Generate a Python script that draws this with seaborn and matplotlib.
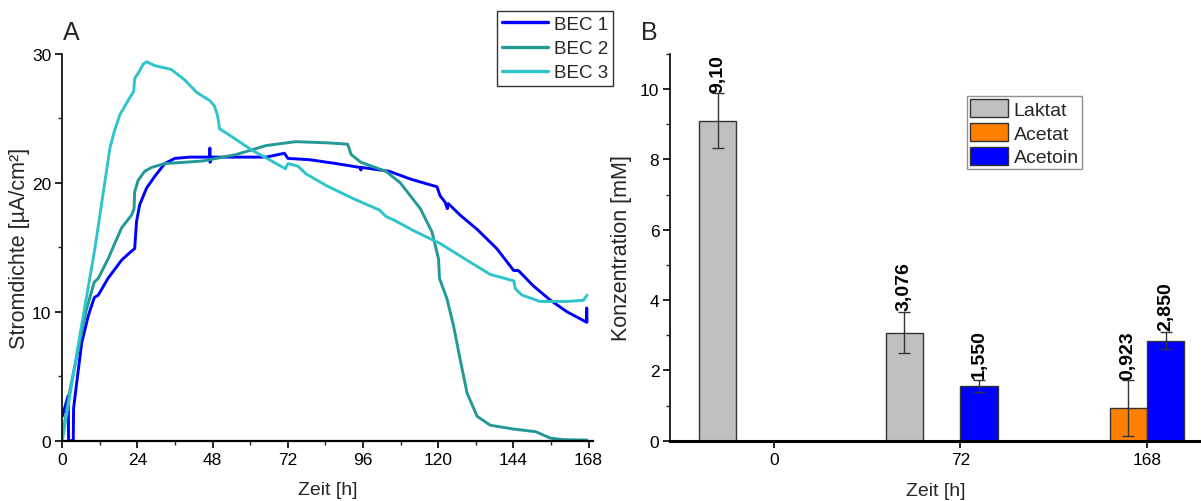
import numpy as np
import pandas as pd
import matplotlib
matplotlib.use("Agg")
import matplotlib.pyplot as plt
import seaborn as sns
from matplotlib.ticker import MultipleLocator
from matplotlib.patches import Patch
from matplotlib.lines import Line2D

# ---------------- data: panel A (current density over time) ----------------
series_names = ["BEC 1", "BEC 2", "BEC 3"]

t_bec1 = [0, 1.9, 2.0, 3.5, 3.6, 4.6, 6.2, 8.3, 10.2, 11.5, 14.6, 18.9, 21.6, 23.1, 23.7, 24.7,
          26.9, 29.5, 32.7, 35.9, 40.7, 47.0, 47.1, 47.2, 47.3, 55.5, 65.1, 70.9, 72.0, 78.9,
          87.4, 95.0, 95.3, 95.6, 104.4, 111.1, 113.9, 119.6, 120.6, 122.2, 122.9, 123.2, 127.0,
          132.4, 138.7, 144.1, 145.6, 150.4, 155.8, 161.1, 167.3, 167.4, 167.5]
j_bec1 = [1.9, 3.5, 0.0, 0.0, 2.5, 4.5, 7.6, 9.7, 11.1, 11.3, 12.6, 14.0, 14.6, 14.9, 17.0, 18.3,
          19.6, 20.5, 21.5, 21.9, 22.0, 22.0, 22.7, 21.6, 22.0, 22.0, 22.0, 22.3, 21.9, 21.8,
          21.5, 21.2, 21.0, 21.2, 20.9, 20.3, 20.1, 19.7, 19.0, 18.5, 18.0, 18.4, 17.5,
          16.4, 14.9, 13.2, 13.2, 12.0, 10.9, 10.0, 9.2, 10.3, 9.2]

t_bec2 = [0, 2.5, 5.1, 7.5, 10.2, 11.5, 14.6, 18.9, 22.1, 22.9, 23.1, 24.2, 26.3, 28.5, 32.7,
          39.0, 44.9, 55.5, 65.1, 74.6, 85.3, 91.1, 92.2, 95.3, 103.3, 107.9, 114.3, 118.0,
          120.1, 120.4, 122.8, 124.9, 127.0, 129.2, 132.4, 136.6, 144.1, 151.1, 155.8, 160.0, 167.5]
j_bec2 = [0.3, 4.0, 7.1, 10.0, 12.3, 12.6, 14.1, 16.5, 17.5, 18.0, 19.3, 20.2, 20.9, 21.2, 21.5,
          21.6, 21.7, 22.2, 22.9, 23.2, 23.1, 23.0, 22.2, 21.6, 20.9, 20.0, 18.0, 16.2,
          14.1, 12.6, 11.0, 8.9, 6.3, 3.7, 1.9, 1.2, 0.9, 0.7, 0.2, 0.08, 0.05]

t_bec3 = [0, 5.0, 10.4, 13.6, 15.2, 16.6, 18.4, 21.5, 22.8, 23.1, 24.2, 25.8, 26.9, 29.5, 34.8,
          39.0, 43.0, 47.0, 48.5, 49.5, 50.2, 53.4, 60.8, 66.1, 71.2, 72.0, 75.2, 77.8, 84.2,
          92.7, 101.2, 103.3, 106.0, 112.1, 120.6, 129.2, 136.6, 144.1, 144.6, 146.7, 152.5,
          161.0, 166.4, 167.5]
j_bec3 = [0.0, 7.3, 14.9, 20.1, 22.7, 24.0, 25.3, 26.6, 27.1, 28.1, 28.5, 29.2, 29.4, 29.1, 28.8,
          28.0, 27.0, 26.4, 26.0, 25.3, 24.2, 23.7, 22.5, 21.8, 21.1, 21.5, 21.3, 20.7, 19.8,
          18.8, 17.9, 17.4, 17.1, 16.3, 15.3, 14.0, 12.9, 12.4, 11.8, 11.3, 10.8,
          10.8, 10.9, 11.3]

xticks_a = [0, 24, 48, 72, 96, 120, 144, 168]
yticks_a = [0, 10, 20, 30]

# ---------------- data: panel B (concentrations) ----------------
times_b = ["0", "72", "168"]
substances = ["Laktat", "Acetat", "Acetoin"]
laktat = [9.10, 3.076, np.nan]
laktat_err = [0.78, 0.58, np.nan]
acetat = [np.nan, np.nan, 0.923]
acetat_err = [np.nan, np.nan, 0.79]
acetoin = [np.nan, 1.550, 2.850]
acetoin_err = [np.nan, 0.17, 0.24]
laktat_lbl = ["9,10", "3,076", ""]
acetat_lbl = ["", "", "0,923"]
acetoin_lbl = ["", "1,550", "2,850"]

# ---------------- styling ----------------
sns.set_theme(style="ticks")
plt.rcParams["font.family"] = ["Liberation Sans", "DejaVu Sans"]
plt.rcParams["axes.linewidth"] = 1.2

line_colors = {"BEC 1": "#0000FF", "BEC 2": "#229995", "BEC 3": "#2EC4CA"}
bar_colors = {"Laktat": "#C0C0C0", "Acetat": "#FF8000", "Acetoin": "#0000FF", " ": "#FFFFFF"}

fig = plt.figure(figsize=(12.01, 5.02), dpi=100)
W, H = 1201, 502
ax_a = fig.add_axes([62.3 / W, 1 - 441.7 / H, 531.0 / W, 386.7 / H])
ax_b = fig.add_axes([670.4 / W, 1 - 441.7 / H, (1201 - 670.4) / W, 386.7 / H])

TICK_FS = 12.5
LABEL_FS = 14
YLABEL_FS = 15.5

# ---------- panel A ----------
frames = []
for name, t, j in zip(series_names, [t_bec1, t_bec2, t_bec3], [j_bec1, j_bec2, j_bec3]):
    frames.append(pd.DataFrame({"t": t, "j": j, "Serie": name}))
df_a = pd.concat(frames, ignore_index=True)
sns.lineplot(data=df_a, x="t", y="j", hue="Serie", units="Serie", estimator=None, sort=False,
             palette=line_colors, hue_order=series_names, linewidth=2.1, ax=ax_a, legend=False)
ax_a.set_xlim(0, 169.5)
ax_a.set_ylim(0, 30)
ax_a.set_xticks(xticks_a)
ax_a.set_yticks(yticks_a)
ax_a.xaxis.set_minor_locator(MultipleLocator(12))
ax_a.yaxis.set_minor_locator(MultipleLocator(5))
ax_a.tick_params(axis="both", which="major", direction="out", length=5, width=1.2,
                 labelsize=TICK_FS, colors="black", pad=3)
ax_a.tick_params(axis="both", which="minor", direction="out", length=3, width=1.0)
ax_a.set_xlabel("Zeit [h]", fontsize=LABEL_FS, labelpad=10)
ax_a.set_ylabel("Stromdichte [µA/cm²]", fontsize=YLABEL_FS, labelpad=1)
for s in ["top", "right"]:
    ax_a.spines[s].set_visible(False)
for s in ["left", "bottom"]:
    ax_a.spines[s].set_color("black")
ax_a.spines["bottom"].set_linewidth(1.6)

handles_a = [Line2D([0], [0], color=line_colors[n], lw=2.4) for n in series_names]
leg_a = fig.legend(handles_a, series_names, loc="upper right",
                   bbox_to_anchor=(613 / W, 1 - 12 / H), fontsize=13.5, frameon=True,
                   fancybox=False, handlelength=2.5, handletextpad=0.3, borderpad=0.25,
                   labelspacing=0.38, borderaxespad=0)
leg_a.get_frame().set_edgecolor("black")
leg_a.get_frame().set_linewidth(1.0)
fig.text(63 / W, 1 - 40 / H, "A", fontsize=18)

# ---------- panel B ----------
rows = []
for sub, vals, errs, lbls in zip(substances, [laktat, acetat, acetoin],
                                 [laktat_err, acetat_err, acetoin_err],
                                 [laktat_lbl, acetat_lbl, acetoin_lbl]):
    for tm, v, e, lb in zip(times_b, vals, errs, lbls):
        if not np.isnan(v):
            rows.append({"Zeit": tm, "Konz": v, "Err": e, "Substanz": sub, "Label": lb})
df_b = pd.DataFrame(rows)

sns.barplot(data=df_b, x="Zeit", y="Konz", hue="Substanz", order=times_b,
            hue_order=substances + [" "], palette=bar_colors, errorbar=None, saturation=1,
            width=0.8, edgecolor="#333333", linewidth=1.0, ax=ax_b, legend=False)

for p in ax_b.patches:
    h = p.get_height()
    if not np.isfinite(h) or h == 0:
        continue
    match = df_b.iloc[(df_b["Konz"] - h).abs().argmin()]
    xc = p.get_x() + p.get_width() / 2
    ax_b.errorbar(xc, h, yerr=match["Err"], fmt="none", ecolor="#333333", elinewidth=1.0,
                  capsize=4, capthick=1.0, zorder=5)
    ax_b.text(xc, h + match["Err"] + 0.05, match["Label"], rotation=90, ha="center",
              va="bottom", fontsize=14, fontweight="bold", color="black")

ax_b.set_xlim(-0.554, 2.29)
ax_b.set_ylim(0, 11)
ax_b.yaxis.set_major_locator(MultipleLocator(2))
ax_b.yaxis.set_minor_locator(MultipleLocator(1))
ax_b.tick_params(axis="both", which="major", direction="out", length=5, width=1.2,
                 labelsize=TICK_FS, colors="black", pad=3)
ax_b.tick_params(axis="y", which="minor", direction="out", length=3, width=1.0)
ax_b.set_xlabel("Zeit [h]", fontsize=LABEL_FS, labelpad=11)
ax_b.set_ylabel("Konzentration [mM]", fontsize=YLABEL_FS, labelpad=6)
for s in ["top", "right"]:
    ax_b.spines[s].set_visible(False)
ax_b.spines["left"].set_color("black")
ax_b.spines["bottom"].set_color("black")
ax_b.spines["bottom"].set_linewidth(2.2)

handles_b = [Patch(facecolor=bar_colors[s], edgecolor="#333333", linewidth=1.0) for s in substances]
leg_b = ax_b.legend(handles_b, substances, loc="upper left",
                    bbox_to_anchor=((967 - 670.4) / (W - 670.4), (441.7 - 97) / 386.7),
                    fontsize=14, frameon=True, fancybox=False, handlelength=1.95,
                    handleheight=1.05, handletextpad=0.3, borderpad=0.15, labelspacing=0.22,
                    borderaxespad=0)
leg_b.get_frame().set_edgecolor("#777777")
leg_b.get_frame().set_linewidth(1.0)
fig.text(641 / W, 1 - 40 / H, "B", fontsize=18)

fig.savefig("out.png", dpi=100)
